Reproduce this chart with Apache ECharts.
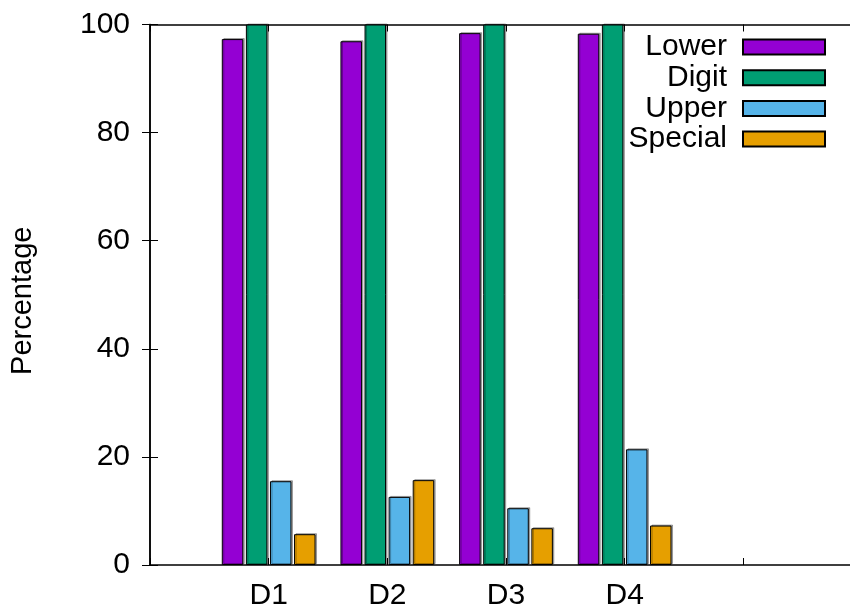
<!DOCTYPE html>
<html>
<head>
<meta charset="utf-8">
<script src="https://cdn.jsdelivr.net/npm/echarts@6/dist/echarts.min.js"></script>
<style>
  html, body { margin: 0; padding: 0; background: #fff; overflow: hidden; }
  #frame { position: relative; width: 850px; height: 611px; overflow: hidden; background: #fff; }
  /* the plot frame runs past the right edge of the window */
  #chart { position: absolute; left: 0; top: 0; width: 870px; height: 611px; }
</style>
</head>
<body>
<div id="frame"><div id="chart"></div></div>
<script>
// Datasets sit at x = 1..4 on the x axis; x = 0 is the left frame, x = 6 the right one.
const categories = ['D1', 'D2', 'D3', 'D4'];
const seriesNames = ['Lower', 'Digit', 'Upper', 'Special'];
const lowerValues   = [97.3, 96.9, 98.4, 98.3];
const digitValues   = [100, 100, 100, 100];
const upperValues   = [15.5, 12.6, 10.5, 21.4];
const specialValues = [5.7, 15.7, 6.8, 7.3];
const yTicks = [0, 20, 40, 60, 80, 100];

const colors = ['#9400D3', '#009E73', '#56B4E9', '#E69F00'];
const FONT = '"Liberation Sans", Arial, sans-serif';
const FS = 30;

const X_MIN = 0;
const X_MAX = 6;

const chart = echarts.init(document.getElementById('chart'), null, { renderer: 'canvas' });

const valueSets = [lowerValues, digitValues, upperValues, specialValues];

const series = valueSets.map((vals, i) => ({
  name: seriesNames[i],
  type: 'bar',
  data: vals.map((v, k) => [k + 1, v]),
  barWidth: 21.5,
  barGap: '12%',
  itemStyle: {
    color: colors[i],
    borderColor: '#000',
    borderWidth: 1,
    shadowColor: 'rgba(0,0,0,0.3)',
    shadowOffsetX: 1.5,
    shadowOffsetY: -1
  },
  emphasis: { disabled: true },
  animation: false
}));

const xAxisCommon = {
  type: 'value',
  min: X_MIN,
  max: X_MAX,
  interval: 1,
  axisLine: { show: true, onZero: false, lineStyle: { color: '#000', width: 1.5 } },
  axisTick: { show: true, inside: true, length: 7, lineStyle: { color: '#000', width: 1 } },
  splitLine: { show: false }
};

const yAxisCommon = {
  type: 'value',
  min: yTicks[0],
  max: yTicks[yTicks.length - 1],
  interval: yTicks[1] - yTicks[0],
  axisLine: { show: true, lineStyle: { color: '#000', width: 1.5 } },
  axisTick: { show: true, inside: true, length: 8, lineStyle: { color: '#000', width: 1 } },
  splitLine: { show: false }
};

chart.setOption({
  animation: false,
  backgroundColor: '#fff',
  textStyle: { fontFamily: FONT },
  color: colors,
  grid: { left: 150, top: 24.5, width: 712, bottom: 611 - 567.5, containLabel: false },
  legend: {
    orient: 'vertical',
    right: 870 - 826,
    top: 32,
    padding: 0,
    align: 'right',
    itemWidth: 82,
    itemHeight: 15,
    itemGap: 0.7,
    icon: 'rect',
    selectedMode: false,
    data: seriesNames,
    textStyle: { fontSize: FS, color: '#000', fontFamily: FONT, padding: [0, 11, 0, 0] }
  },
  xAxis: [
    Object.assign({}, xAxisCommon, {
      position: 'bottom',
      axisLabel: {
        show: true, color: '#000', fontSize: FS, fontFamily: FONT, margin: 16,
        formatter: v => categories[v - 1] || ''
      }
    }),
    Object.assign({}, xAxisCommon, {
      position: 'top',
      axisLabel: { show: false }
    })
  ],
  yAxis: [
    Object.assign({}, yAxisCommon, {
      position: 'left',
      name: 'Percentage',
      nameLocation: 'middle',
      nameRotate: 90,
      nameGap: 113,
      nameTextStyle: { fontSize: 29, color: '#000', fontFamily: FONT, padding: [0, 12, 0, 0] },
      axisLabel: { color: '#000', fontSize: FS, fontFamily: FONT, margin: 20 }
    }),
    Object.assign({}, yAxisCommon, {
      position: 'right',
      axisLabel: { show: false }
    })
  ],
  series: series
});
</script>
</body>
</html>
